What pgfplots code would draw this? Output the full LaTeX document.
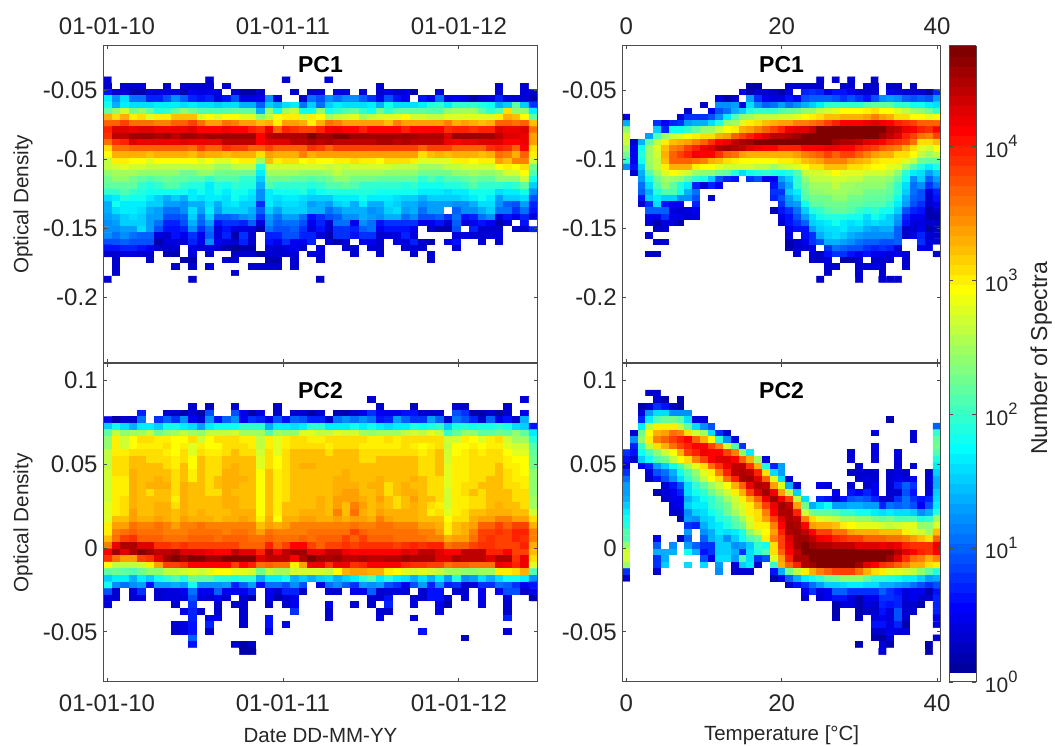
\documentclass[border=0pt]{standalone}
\usepackage{pgfplots}
\pgfplotsset{compat=1.18}
\usepackage{fontspec}
\setmainfont{Liberation Sans}
\newcount\cx \newcount\cy
\def\BeginGrid#1#2#3#4#5{\gdef\acc{}\gdef\gN{#1}\gdef\gxo{#2}\gdef\gdx{#3}\gdef\gyo{#4}\gdef\gdy{#5}\global\cy=0 }
\def\AddCell#1{\pgfmathsetmacro\xx{\gxo+\the\cx*\gdx}\xdef\acc{\acc(\xx,\yy)[#1]}\global\advance\cx 1 }
\newcommand\Rw[2][0]{%
 \pgfmathsetmacro\yy{\gyo+\the\cy*\gdy}\global\cx=0
 \loop\ifnum\cx<#1 \AddCell{0}\repeat
 \foreach \v in {#2}{\ifnum\cx<\gN \AddCell{\v}\fi}%
 \loop\ifnum\cx<\gN \AddCell{0}\repeat
 \global\advance\cy 1 }
% values: ten times log10 of the number of spectra; 0 = empty bin
\BeginGrid{51}{1.13}{17.67}{-0.04258}{-0.0045}
\Rw{3,0,0,0,0,0,0,0,0,0,0,0,3,0,0,0,0,0,0,0,0,3,0,0,0,0,3}
\Rw{3,0,3,3,4,0,0,3,0,3,3,3,3,0,3,0,0,0,0,0,0,0,0,0,0,0,0,0,0,0,0,0,3,0,0,0,0,0,0,0,0,0,0,0,0,0,3,0,0,3}
\Rw{6,3,4,2,2,4,4,4,4,2,5,4,5,4,0,3,2,2,3,0,0,0,3,0,3,4,0,4,4,0,4,0,3,5,3,4,2,0,0,4,0,0,0,0,0,0,3,0,0,4,3}
\Rw{17,12,16,11,11,7,7,9,12,10,7,6,7,4,6,9,4,4,5,12,3,0,0,3,11,9,12,11,12,12,10,8,5,9,6,5,0,6,5,11,4,5,4,2,3,4,7,4,3,4,2}
\Rw{18,14,17,16,16,16,17,17,17,16,17,16,16,15,16,16,14,14,10,15,14,16,17,11,15,11,15,17,16,16,16,17,14,18,16,16,16,17,19,20,17,20,20,20,19,18,14,15,22,15,8}
\Rw{22,24,27,23,24,22,19,20,22,24,23,21,21,21,21,22,22,22,14,24,18,25,26,18,18,24,18,20,21,22,20,18,23,20,22,22,22,22,21,21,24,25,25,25,22,20,21,31,24,24,17}
\Rw{33,31,33,30,31,28,30,30,32,32,32,28,29,28,29,29,28,28,24,26,29,30,30,27,30,29,25,26,27,28,25,26,27,28,28,29,27,27,26,26,28,28,28,28,28,28,30,33,32,29,22}
\Rw{37,37,38,36,36,36,35,35,37,37,38,36,34,34,36,35,34,34,32,33,30,34,34,33,30,33,36,35,34,34,34,34,34,32,35,34,34,34,34,34,35,33,34,33,32,33,37,37,36,37,32}
\Rw{40,43,43,42,43,43,42,42,42,42,43,41,41,41,42,41,41,40,39,42,37,40,39,38,38,40,42,42,41,41,40,41,41,41,41,40,41,41,41,41,39,40,40,39,40,40,43,42,42,43,36}
\Rw{39,44,44,46,46,46,45,46,44,46,46,45,46,46,46,46,46,46,41,44,45,45,45,45,47,46,46,47,47,46,46,46,46,46,46,46,46,45,45,45,43,46,46,46,46,46,44,43,43,42,34}
\Rw{36,39,40,43,42,42,42,42,42,43,42,42,42,42,44,44,44,44,41,43,43,43,44,44,45,44,45,44,44,44,44,44,45,45,44,45,44,44,44,44,42,41,42,42,43,43,43,41,41,42,34}
\Rw{31,36,36,37,37,37,37,37,37,37,36,38,37,37,39,38,38,37,37,38,37,37,37,37,39,38,37,38,38,38,38,38,38,38,38,38,38,37,38,38,38,37,37,37,37,39,40,39,37,41,31}
\Rw{29,33,33,33,33,32,33,33,33,33,32,34,33,33,32,33,33,33,31,34,33,33,33,35,33,34,34,34,34,34,34,34,34,34,34,34,34,31,32,33,32,33,33,33,32,33,36,35,33,37,30}
\Rw{26,30,30,29,29,28,29,29,29,29,29,28,29,28,28,29,30,30,25,32,30,31,31,29,30,29,29,30,30,31,30,30,29,31,31,31,30,28,28,28,28,30,30,29,30,30,34,32,35,35,27}
\Rw{26,27,28,27,27,26,26,26,26,26,26,26,26,25,25,26,26,26,19,27,27,27,27,27,27,27,26,27,26,27,27,27,27,27,26,26,26,25,25,25,26,26,27,27,27,27,29,30,29,31,23}
\Rw{24,25,25,25,24,24,24,24,24,23,23,24,24,23,23,23,23,23,17,25,25,25,25,24,24,24,25,26,25,25,25,25,25,24,24,24,24,23,23,23,23,24,24,25,24,24,25,27,27,29,21}
\Rw{23,24,24,23,22,21,22,23,22,22,21,21,20,21,21,21,20,20,15,23,23,23,22,22,21,22,23,24,24,23,23,23,22,22,22,22,22,20,21,20,21,21,22,23,22,22,24,24,24,27,18}
\Rw{22,22,22,22,20,19,20,21,21,20,19,19,17,19,18,20,19,19,14,21,20,20,20,20,19,20,21,21,22,21,20,20,20,20,20,19,20,18,18,18,19,19,20,21,20,20,20,19,20,22,15}
\Rw{20,20,21,20,19,18,18,18,18,18,17,18,17,18,17,18,18,17,12,17,18,18,18,19,17,18,19,19,19,19,19,19,18,18,18,18,18,17,17,17,16,17,17,18,18,18,16,17,17,18,12}
\Rw{16,17,19,18,18,17,15,14,15,14,17,16,17,17,16,18,17,16,12,17,16,17,17,16,15,15,15,17,17,17,18,17,17,17,16,15,15,14,15,15,15,15,16,17,18,17,13,15,15,16,9}
\Rw{14,18,17,17,17,15,15,13,13,12,14,14,16,14,16,17,15,15,8,17,15,16,16,15,13,14,13,15,16,14,17,14,14,16,15,14,14,12,13,13,13,12,12,14,16,16,12,10,9,13,7}
\Rw{14,16,17,17,16,14,13,11,11,12,16,13,17,13,15,15,15,14,10,15,13,15,15,15,14,14,11,12,14,14,14,12,13,15,16,13,14,11,13,13,0,10,12,12,14,15,11,11,8,11,6}
\Rw{13,14,15,16,15,13,13,9,9,10,15,11,15,10,10,11,12,13,8,13,11,13,13,11,6,8,9,10,12,12,14,13,12,14,14,11,12,9,9,10,8,11,6,7,11,12,4,6,5,7,4}
\Rw{12,13,15,15,15,13,11,7,7,9,14,10,13,6,8,8,7,10,4,12,10,11,11,9,5,7,3,11,11,5,12,11,6,8,8,8,8,5,5,6,3,10,4,5,6,5,2,4,0,6,0}
\Rw{12,12,13,13,16,13,9,6,6,7,12,8,11,4,6,4,4,4,2,11,9,9,10,8,4,6,3,8,8,7,10,11,5,6,6,6,5,0,3,2,2,9,0,7,3,3,3,0,3,4,7}
\Rw{12,11,12,11,10,10,4,3,6,5,8,5,10,4,7,2,8,3,0,7,7,9,9,7,7,4,2,8,8,6,8,8,3,4,4,7,4,0,0,0,0,4,4,3,3,4,4,0,0,0,0}
\Rw{9,9,10,9,9,9,2,4,4,3,7,5,12,5,4,3,7,3,0,6,5,8,5,5,7,0,3,2,4,0,5,5,3,0,4,4,7,3,2,0,4,6,0,0,3,0,3}
\Rw{6,6,7,7,6,5,3,3,3,0,4,3,4,3,2,1,2,2,0,4,3,4,5,3,0,4,0,0,3,3,0,3,3,0,0,3,3,3,0,0,0,3}
\Rw{3,3,4,4,3,3,0,2,2,0,4,0,3,0,0,3,3,3,2,3,3,3,3,0,4,4,0,0,0,3,0,0,3,0,0,0,3,0,3}
\Rw{0,3,0,0,0,3,0,0,0,2,2,0,0,0,3,3,0,0,0,2,2,0,3,0,0,3,0,0,0,0,0,0,0,0,0,0,0,0,3}
\Rw{0,3,0,0,0,0,0,0,3,0,3,0,3,0,0,0,0,3,3,3,3,0,3}
\Rw{0,3,0,0,0,0,0,0,0,0,0,0,0,0,0,3}
\Rw{3,0,0,0,0,0,0,0,0,0,3,0,0,0,0,0,0,0,0,0,0,0,0,0,0,3}
\global\let\dataTL\acc
\BeginGrid{41}{0}{1}{-0.04258}{-0.0045}
\Rw[25]{3,0,3,0,3,0,0,3}
\Rw[16]{2,2,0,0,0,3,3,3,3,3,0,0,3,3,0,3,3,0,3,3,0,3}
\Rw[15]{5,2,3,3,3,2,4,0,7,8,7,4,6,6,5,3,3,3,0,5,4,3,3,3,2,7}
\Rw[12]{4,2,3,0,13,8,5,4,4,6,5,9,10,10,10,9,8,9,8,6,9,12,13,12,10,9,10,9,13}
\Rw[10]{3,0,12,12,13,4,16,12,10,11,13,11,12,14,15,17,20,20,20,20,20,21,22,22,22,20,20,18,18,17,16}
\Rw[8]{3,0,0,5,9,11,14,15,19,20,20,20,21,22,23,24,24,26,27,28,29,29,29,30,31,29,29,28,26,25,24,23,20}
\Rw{5,0,0,0,0,0,0,4,8,8,8,9,12,17,21,24,25,26,26,26,27,27,28,29,30,31,32,32,33,33,33,34,35,34,33,31,31,29,29,28,29}
\Rw{14,0,0,0,8,5,7,8,13,14,14,16,19,24,25,28,30,31,32,33,34,34,35,35,36,37,38,40,41,41,41,42,43,42,41,40,39,38,37,37,37}
\Rw{24,0,0,0,15,7,18,18,20,22,24,25,27,29,30,33,34,35,37,38,40,42,43,43,44,47,47,47,47,47,47,47,47,47,45,44,42,41,40,39,41}
\Rw{27,0,0,13,21,25,27,28,29,30,31,31,33,34,37,38,40,41,43,44,44,45,46,47,47,47,47,47,47,47,47,47,47,46,44,43,40,38,36,35,38}
\Rw{27,3,14,22,26,30,32,33,34,35,37,39,41,42,44,45,46,47,47,47,47,47,47,47,47,47,47,46,45,45,44,43,42,41,40,39,38,36,31,31,32}
\Rw{25,5,18,25,28,32,35,36,38,40,42,43,45,46,45,44,43,42,41,41,40,40,40,41,41,41,42,42,41,41,40,39,38,37,36,35,33,31,28,27,29}
\Rw{23,5,19,25,27,33,37,38,40,42,41,41,39,37,36,34,33,33,33,33,33,33,34,35,36,37,38,37,38,38,37,35,34,33,33,31,31,29,26,25,26}
\Rw{20,5,18,25,26,32,37,37,37,36,35,33,32,31,30,29,29,29,29,29,30,30,31,32,33,34,35,35,35,34,33,32,31,30,30,30,28,26,23,22,22}
\Rw{12,6,15,24,26,30,33,33,33,30,29,29,28,27,27,27,27,26,26,25,26,27,28,29,31,31,32,32,32,31,31,30,29,29,28,28,25,21,19,17,19}
\Rw{0,3,14,21,25,28,29,28,27,25,24,24,23,22,19,16,18,19,20,19,18,19,21,26,27,27,28,29,28,28,28,27,27,27,26,24,20,17,16,13,15}
\Rw{0,0,13,18,23,25,25,24,22,20,19,15,9,7,6,0,8,9,5,5,13,15,20,24,26,26,26,27,27,26,26,25,25,25,24,22,18,12,15,10,13}
\Rw{0,0,11,16,21,24,22,19,17,7,3,7,5,0,0,0,0,0,0,6,11,14,20,23,25,25,25,26,25,25,24,24,24,24,23,20,16,11,12,8,11}
\Rw{0,0,10,14,19,21,21,18,14,11,0,0,0,0,0,0,0,0,0,8,8,15,17,22,24,24,25,25,25,24,24,23,23,23,22,20,15,11,9,4,7}
\Rw{0,0,6,15,17,15,15,12,12,9,0,3,0,0,0,0,0,0,0,7,9,13,15,21,23,23,23,24,24,23,23,22,22,22,21,18,14,10,9,3,6}
\Rw{0,0,3,8,16,6,5,5,0,7,0,0,0,0,0,0,0,0,0,0,8,12,13,18,22,22,23,23,23,22,22,21,21,21,20,17,13,9,8,3,5}
\Rw{0,0,0,10,10,10,4,3,4,5,0,0,0,0,0,0,0,0,0,2,6,8,11,15,19,20,21,22,22,21,20,19,20,18,18,15,9,7,6,2,3}
\Rw{0,0,0,5,5,8,5,5,3,4,0,0,0,0,0,0,0,0,0,0,5,6,9,13,16,18,19,19,19,18,18,16,18,17,15,13,7,5,5,2,2}
\Rw{0,0,0,4,2,4,4,2,0,0,0,0,0,0,0,0,0,0,0,0,3,6,8,10,15,16,17,18,17,16,17,15,16,15,15,12,6,4,4,3,3}
\Rw{0,0,0,0,3,3,0,0,0,0,0,0,0,0,0,0,0,0,0,0,0,5,6,6,13,15,16,16,17,15,15,14,13,14,14,10,3,3,5,2,3}
\Rw{0,0,0,3,0,0,0,0,0,0,0,0,0,0,0,0,0,0,0,0,0,4,0,6,8,14,15,16,15,14,13,12,12,12,12,10,3,5,7,3,3}
\Rw{0,0,0,0,3,3,0,0,0,0,0,0,0,0,0,0,0,0,0,0,0,2,3,5,8,9,14,14,13,12,11,10,10,9,9,10,0,0,8,4,3}
\Rw[21]{2,3,3,4,0,8,11,10,9,9,8,7,8,7,4,0,0,5,4,0}
\Rw{0,0,0,3,3,0,0,0,0,0,0,0,0,0,0,0,0,0,0,0,0,0,3,0,4,3,6,8,8,6,5,6,5,5,4,5,4,0,0,0,3}
\Rw[24]{3,3,4,0,2,2,3,0,3,3,3,0,3}
\Rw[26]{3,3,0,0,3,4,4,3,0,0,3}
\Rw[26]{3,0,0,0,3,0,0,3}
\Rw[25]{3,0,0,0,0,3,0,0,3,3,3}
\global\let\dataTR\acc
\BeginGrid{51}{1.13}{17.67}{0.09247}{-0.003947}
\Rw{0}
\Rw[31]{3,0,0,0,0,0,0,0,0,0,0,0,0,0,0,0,0,0,3}
\Rw[10]{3,0,3,0,0,3,0,0,0,0,3,0,0,0,0,0,0,0,0,0,0,0,3,0,0,0,3,0,0,0,0,3,3,0,0,0,0,3}
\Rw[4]{7,0,0,3,3,2,3,2,9,0,0,9,5,2,4,0,3,0,3,3,2,3,0,2,2,3,5,8,5,5,5,6,6,3,3,3,0,9,8,2,2,3,2,3,0,4,0}
\Rw{5,2,3,3,11,0,8,10,8,12,5,3,12,6,10,12,5,8,7,5,9,6,10,9,7,7,3,11,12,11,12,11,6,7,13,10,8,8,13,10,3,11,9,7,3,10,4,6,3,14,0}
\Rw{15,18,16,14,17,17,15,18,18,17,16,13,17,18,18,18,20,20,20,14,17,17,16,17,20,20,17,17,17,18,17,18,17,16,17,17,19,18,19,20,15,19,19,18,19,19,20,19,16,15,6}
\Rw{22,26,24,25,25,26,23,24,25,26,25,24,26,26,26,27,25,25,25,21,25,24,24,28,28,26,26,28,27,27,25,24,25,25,25,26,27,26,28,26,20,22,24,24,22,22,23,22,24,22,17}
\Rw{24,30,27,29,31,31,30,30,29,29,31,27,29,31,31,31,30,30,26,30,28,30,31,31,30,30,31,31,31,31,31,30,30,31,30,31,31,31,31,31,27,27,30,29,28,30,31,27,25,25,19}
\Rw{24,30,27,29,30,30,30,31,29,30,28,30,29,29,31,31,31,30,26,30,28,30,31,31,31,31,30,31,31,31,30,30,30,30,30,31,30,29,30,31,26,29,29,30,29,30,30,28,27,27,21}
\Rw{26,30,30,31,31,31,31,30,29,31,28,31,30,30,31,32,31,31,27,31,28,31,32,32,32,32,31,32,32,32,31,31,31,31,31,31,31,30,31,32,27,29,30,31,30,31,31,29,28,28,22}
\Rw{26,31,31,32,32,31,31,31,30,31,29,32,31,31,32,32,32,32,28,31,29,31,32,32,32,32,32,32,32,32,31,31,32,32,32,32,32,31,31,32,27,30,30,31,31,31,31,30,29,29,23}
\Rw{26,31,31,32,32,32,32,31,30,32,29,32,31,31,32,33,32,32,28,31,29,31,32,33,33,32,32,32,32,32,32,32,32,32,32,32,32,31,31,32,28,30,30,31,31,31,32,30,30,29,23}
\Rw{27,31,31,33,32,32,32,32,31,32,30,32,31,31,33,33,32,32,29,32,30,31,32,32,32,32,32,32,33,32,32,32,32,32,32,32,32,31,31,32,28,30,30,31,31,31,32,31,30,29,24}
\Rw{27,30,30,33,32,32,33,32,31,32,30,32,31,32,33,33,33,32,29,32,30,31,32,32,32,32,32,33,33,32,32,32,33,32,32,32,33,32,31,31,28,30,30,31,31,32,32,31,30,30,24}
\Rw{27,30,30,33,32,33,33,33,31,33,32,32,31,32,33,33,32,32,29,32,30,31,32,32,32,32,32,33,33,33,32,33,33,31,32,33,32,32,31,31,28,30,31,31,32,32,32,31,31,30,24}
\Rw{27,30,30,33,32,31,32,32,31,33,32,32,31,31,33,32,32,32,29,32,30,31,32,32,32,32,32,33,34,34,32,32,33,31,32,33,33,32,31,31,27,30,31,32,31,32,32,32,31,31,24}
\Rw{27,30,31,33,32,32,32,32,30,33,32,32,32,32,33,33,32,32,29,32,30,31,32,32,32,33,32,34,34,34,33,32,34,32,31,32,34,32,32,31,27,30,30,31,31,32,32,32,31,31,25}
\Rw{28,30,31,33,32,32,33,33,31,33,32,32,32,32,33,33,32,32,29,32,30,32,32,32,32,33,32,34,32,35,34,32,33,32,31,32,33,32,31,30,27,30,30,31,31,32,33,32,32,31,25}
\Rw{28,30,31,34,32,32,33,33,32,33,32,33,32,32,32,33,33,33,29,32,30,32,32,33,33,33,32,35,32,36,33,32,34,33,33,33,33,32,30,31,28,30,31,32,32,33,33,33,32,32,27}
\Rw{28,32,32,34,33,33,34,33,32,34,33,33,33,32,33,33,34,33,30,33,29,33,33,34,34,33,33,34,33,34,34,33,35,34,33,33,33,32,32,32,29,31,31,33,34,34,35,35,34,34,31}
\Rw{30,34,34,36,35,35,36,35,34,35,35,36,35,35,35,35,35,35,32,34,33,34,35,35,35,35,35,35,35,36,35,35,36,36,35,35,35,34,34,33,30,32,33,34,37,37,38,37,38,38,33}
\Rw{30,35,36,37,36,36,36,35,35,35,36,36,36,36,35,36,36,35,34,36,35,35,35,35,36,36,36,36,36,38,37,36,36,36,36,36,36,35,35,34,30,32,33,35,38,38,39,38,40,40,35}
\Rw{32,36,38,39,37,37,37,36,36,36,37,37,37,36,37,37,37,36,36,37,36,36,36,37,36,37,37,37,38,37,38,37,37,37,36,36,36,36,35,35,33,34,34,36,38,39,38,38,40,39,35}
\Rw{35,42,45,45,43,43,39,39,38,39,38,38,38,38,38,38,37,37,37,40,37,38,41,41,38,37,38,38,39,38,39,39,39,39,38,39,40,39,40,40,36,37,37,38,39,39,38,38,38,40,33}
\Rw{41,46,43,45,47,46,44,44,45,43,43,43,42,41,41,44,43,43,40,45,41,44,46,46,42,42,44,44,42,41,41,41,41,41,41,43,42,44,44,43,41,41,44,44,44,40,40,41,38,38,32}
\Rw{39,36,34,34,38,39,43,46,47,46,47,47,46,46,47,47,47,47,43,44,44,44,41,45,47,46,45,46,44,44,45,44,44,45,45,46,45,45,45,43,43,45,44,44,44,43,45,45,39,42,31}
\Rw{29,26,26,26,27,30,34,38,38,39,41,41,41,41,41,38,41,40,36,37,36,36,30,34,42,42,39,42,42,39,40,41,41,41,41,40,39,39,38,38,36,37,37,36,36,36,42,41,40,42,28}
\Rw{22,23,22,21,23,24,24,26,26,27,28,27,28,29,29,28,28,27,23,26,25,25,27,27,27,27,26,29,33,34,34,33,33,30,29,28,27,28,27,26,25,25,24,24,25,25,30,30,31,33,21}
\Rw{15,17,17,14,17,15,18,20,21,19,23,22,22,20,20,19,20,20,14,17,17,18,14,15,14,15,16,14,15,17,20,21,17,19,17,16,14,16,14,17,13,19,12,13,16,14,16,18,18,17,12}
\Rw{18,12,11,12,13,6,13,13,14,13,18,12,12,12,13,7,10,13,6,11,11,9,12,9,0,4,11,12,10,8,13,12,13,9,8,5,9,13,7,12,7,8,3,4,8,8,11,10,8,5,6}
\Rw{9,3,0,4,8,0,3,4,4,5,11,5,5,10,5,5,5,7,0,5,3,7,7,3,0,0,3,3,0,5,5,10,3,4,4,4,0,3,6,6,0,3,3,0,5,0,5,9,9,3,5}
\Rw{4,3,0,3,4,0,3,4,4,4,9,4,3,5,3,0,3,2,0,5,2,3,5,0,0,0,0,0,0,0,0,3,3,6,0,0,3,3,6,6,3,0,3,0,5,0,0,4,0,0,2}
\Rw{4,0,0,0,0,0,0,0,3,0,8,0,0,3,0,3,3,0,0,3,0,3,5,0,0,0,5,0,0,3,0,3,0,7,0,0,4,0,0,5,2,0,0,0,4,0,0,3}
\Rw[9]{5,7,3,0,3,0,0,3,0,0,0,0,0,8,0,0,0,3,0,0,0,0,0,3,3,0,0,0,0,0,5,0,0,0,0,0,0,0,3}
\Rw[10]{7,0,5,5,0,0,3,0,0,6,0,0,0,0,0,0,3,0,0,0,0,0,4,0,0,0,3,0,0,0,0,0,0,0,0,0,0,7}
\Rw[8]{3,4,6,0,7,0,0,0,3,0,0,6,0,5}
\Rw[8]{3,4,6,0,3,0,0,0,0,0,0,5,0,0,0,0,0,0,0,0,0,0,0,0,0,0,0,0,0,6,0,0,0,0,0,0,0,0,0,3}
\Rw[10]{10,0,0,0,0,0,0,0,0,0,0,0,0,0,0,0,0,0,0,0,0,0,0,0,0,0,0,0,0,0,0,0,3}
\Rw[10]{6,0,0,0,0,3,2,3}
\Rw[16]{2,2}
\global\let\dataBL\acc
\BeginGrid{41}{0}{1}{0.09247}{-0.003947}
\Rw[3]{3,3}
\Rw[4]{3,2,0,2}
\Rw[2]{2,3,8,6,3,2}
\Rw[2]{4,13,16,16,12,12,12}
\Rw[2]{7,17,21,23,23,21,16,4,4,0,0,0,0,0,0,0,0,0,0,0,0,0,0,0,0,0,0,0,0,0,0,0,2}
\Rw[2]{17,26,30,30,30,26,22,16,12,9,0,0,0,0,0,0,0,0,0,0,0,0,0,0,0,0,0,0,0,0,0,0,0,0,0,0,0,0,10}
\Rw[1]{3,23,29,33,34,36,35,31,27,25,16,8,3,0,0,0,0,0,0,0,0,0,0,0,0,0,0,0,0,0,0,4,0,0,0,0,3,0,0,20}
\Rw[1]{12,24,30,35,37,38,40,41,37,33,29,20,12,4,0,0,0,0,0,0,0,0,0,0,0,0,0,0,0,0,0,0,0,0,0,0,3,0,0,22}
\Rw[1]{7,20,26,31,33,36,38,40,41,41,38,35,27,21,8,0,0,0,0,0,0,0,0,0,0,0,0,0,0,0,0,4,0,0,0,0,0,0,0,23}
\Rw{8,6,18,21,24,27,29,33,38,40,42,41,41,38,35,24,17,0,0,0,0,0,0,0,0,0,0,0,0,3,0,0,4,0,0,4,0,0,0,0,21}
\Rw{6,3,15,18,21,23,26,29,31,35,38,41,43,43,41,37,33,25,4,0,0,0,0,0,0,0,0,0,0,3,0,0,4,0,0,4,0,0,0,0,19}
\Rw{5,0,5,7,13,15,18,21,25,28,31,36,39,42,44,44,39,33,19,7,13,0,0,0,0,0,0,0,0,0,3,0,0,0,0,4,0,3,0,0,17}
\Rw{8,0,0,4,9,11,14,18,21,24,28,30,35,40,44,45,44,40,31,16,13,0,0,0,0,0,0,0,0,3,3,3,3,0,3,4,3,0,0,3,15}
\Rw{11,0,0,3,6,9,12,16,20,23,26,29,31,36,40,45,46,43,37,28,16,3,0,0,0,0,0,0,0,0,3,4,3,0,3,5,4,5,0,4,14}
\Rw{13,0,0,0,0,3,6,9,16,20,22,25,27,29,33,37,42,45,44,34,28,14,3,0,0,5,4,0,0,3,0,3,5,0,3,7,10,8,0,3,14}
\Rw{13,0,0,0,2,4,5,7,16,18,20,23,25,27,30,33,38,43,46,42,34,26,15,0,0,0,0,5,0,6,5,7,5,0,3,3,9,6,0,4,15}
\Rw{14,0,0,0,0,3,5,5,14,16,18,20,22,25,27,30,33,37,42,46,42,38,26,16,0,7,6,3,6,9,10,9,7,3,3,8,11,8,6,7,16}
\Rw{15,0,0,0,0,0,4,5,15,17,17,20,21,23,26,28,30,34,38,42,46,44,34,23,14,16,18,13,13,14,14,13,13,7,11,10,11,9,5,9,17}
\Rw{17,0,0,0,0,0,3,3,12,15,16,18,20,23,25,27,30,31,35,41,45,45,40,27,23,22,22,21,20,20,18,18,17,16,17,16,16,15,12,14,19}
\Rw{18,0,0,0,0,0,0,2,13,12,15,16,19,20,22,25,28,31,34,38,43,45,44,35,31,28,27,26,25,25,24,24,23,22,23,21,21,21,19,20,25}
\Rw{19,0,0,0,0,0,0,0,8,7,14,16,17,19,21,23,27,30,30,35,41,46,45,41,34,33,33,32,30,29,28,28,28,27,26,27,28,28,24,24,28}
\Rw{21,0,0,0,0,0,0,0,13,0,12,14,17,16,17,19,24,27,29,34,40,45,46,44,41,38,38,36,36,34,33,33,33,32,32,32,30,28,27,25,32}
\Rw{21,0,0,0,5,0,0,3,10,0,10,14,15,12,15,18,21,23,30,35,38,43,46,46,44,42,41,40,39,38,38,37,37,37,36,36,35,34,32,31,37}
\Rw{24,0,0,0,10,0,12,0,13,10,8,8,15,15,12,13,15,20,18,31,38,42,46,47,46,45,45,44,44,44,43,43,43,42,43,42,40,39,39,39,42}
\Rw{27,0,0,0,14,14,14,0,18,14,6,8,15,15,14,8,16,19,21,31,37,41,44,47,47,47,47,47,47,47,47,47,47,47,47,45,43,41,40,39,41}
\Rw{27,0,0,0,8,14,0,0,0,0,9,5,16,16,13,21,16,8,9,28,34,40,45,45,47,47,47,47,47,47,47,47,47,47,46,43,39,36,35,33,35}
\Rw{25,0,0,0,8,15,0,0,16,0,16,0,13,0,4,15,17,3,0,20,33,37,40,45,46,47,47,47,47,47,46,43,41,39,38,37,35,33,33,31,30}
\Rw{8,0,0,0,3,0,0,0,0,0,0,0,12,0,3,3,3,0,0,6,14,23,26,30,33,35,37,38,38,38,36,33,31,30,28,28,27,26,24,22,19}
\Rw{3,0,0,0,0,0,0,0,0,0,0,0,0,0,0,0,0,0,0,2,5,10,14,17,18,20,22,23,24,24,24,22,20,20,19,18,17,17,15,13,14}
\Rw[21]{3,6,8,11,13,15,15,16,17,17,16,16,14,14,13,12,11,9,8,9}
\Rw[23]{5,8,4,5,10,10,8,8,8,8,10,8,6,4,5,5,2,6}
\Rw[23]{3,0,3,5,6,6,4,2,5,5,8,8,7,4,5,3,3,7}
\Rw[27]{2,4,4,2,4,3,7,6,7,3,3,2,0,7}
\Rw[27]{2,0,0,2,3,3,6,4,9,3,3,0,0,7}
\Rw[27]{2,0,0,2,0,4,5,4,9,3,0,0,0,5}
\Rw[32]{6,6,4,7,2,0,0,0,4}
\Rw[32]{3,3,5,4,4}
\Rw[32]{2,1,4,0,0,0,0,0,3}
\Rw[30]{2,0,0,4,2,0,0,0,0,2}
\Rw[33]{4,0,0,0,0,0,2}
\global\let\dataBR\acc
\pgfplotsset{colormap={jw}{rgb255=(255,255,255) rgb255=(0,0,159) rgb255=(0,0,175) rgb255=(0,0,191) rgb255=(0,0,207) rgb255=(0,0,223) rgb255=(0,0,239) rgb255=(0,0,255) rgb255=(0,16,255) rgb255=(0,32,255) rgb255=(0,48,255) rgb255=(0,64,255) rgb255=(0,80,255) rgb255=(0,96,255) rgb255=(0,112,255) rgb255=(0,128,255) rgb255=(0,143,255) rgb255=(0,159,255) rgb255=(0,175,255) rgb255=(0,191,255) rgb255=(0,207,255) rgb255=(0,223,255) rgb255=(0,239,255) rgb255=(0,255,255) rgb255=(16,255,239) rgb255=(32,255,223) rgb255=(48,255,207) rgb255=(64,255,191) rgb255=(80,255,175) rgb255=(96,255,159) rgb255=(112,255,143) rgb255=(128,255,128) rgb255=(143,255,112) rgb255=(159,255,96) rgb255=(175,255,80) rgb255=(191,255,64) rgb255=(207,255,48) rgb255=(223,255,32) rgb255=(239,255,16) rgb255=(255,255,0) rgb255=(255,239,0) rgb255=(255,223,0) rgb255=(255,207,0) rgb255=(255,191,0) rgb255=(255,175,0) rgb255=(255,159,0) rgb255=(255,143,0) rgb255=(255,128,0) rgb255=(255,112,0) rgb255=(255,96,0) rgb255=(255,80,0) rgb255=(255,64,0) rgb255=(255,48,0) rgb255=(255,32,0) rgb255=(255,16,0) rgb255=(255,0,0) rgb255=(239,0,0) rgb255=(223,0,0) rgb255=(207,0,0) rgb255=(191,0,0) rgb255=(175,0,0) rgb255=(159,0,0) rgb255=(143,0,0) rgb255=(128,0,0)}}
\newcommand\tl{\fontsize{24}{26}\selectfont}
\pgfplotsset{panel/.style={scale only axis,axis on top,colormap name=jw,colormap access=piecewise constant,
 point meta min=0,point meta max=47.5,
 tick align=inside,major tick length=3.5pt,tick style={color=black!70,line width=.8pt},
 axis line style={black!70,line width=1pt},
 tick label style={font=\tl,color=black!85},
 yticklabel style={inner sep=0pt,xshift=-5.5pt},
 yticklabel pos=left,
 xlabel style={font=\fontsize{20.5}{23}\selectfont,color=black!85,at={(axis description cs:0.5,-0.167)},anchor=center},
 ylabel style={font=\fontsize{20.7}{23}\selectfont,color=black!85,anchor=center}},
 dateax/.style={width=434.4pt,xmin=-7.7,xmax=893.6,xtick={0,365,730},xticklabels={01-01-10,01-01-11,01-01-12}},
 tempax/.style={width=318.6pt,xmin=-0.5,xmax=40.5,xtick={0,20,40},xticklabels={0,20,40}},
 pc1ax/.style={height=317.5pt,ymin=-0.2472,ymax=-0.0177,ytick={-0.2,-0.15,-0.1,-0.05},yticklabels={-0.2,-0.15,-0.1,-0.05},xticklabel pos=upper,xticklabel style={inner sep=0pt,yshift=11pt}},
 pc2ax/.style={height=318pt,ymin=-0.080,ymax=0.110,ytick={-0.05,0,0.05,0.1},yticklabels={-0.05,0,0.05,0.1},xticklabel pos=lower,xticklabel style={inner sep=0pt,yshift=-12.5pt}}}
\newcommand\cell[3]{\edef\temp{\noexpand\addplot[matrix plot*,mesh/cols=#1,point meta=explicit] coordinates {#2};}\temp
 \node[font=\fontsize{23}{26}\selectfont\bfseries,text=black] at (rel axis cs:0.5,#3) {PC\ifdim#3pt>0.92pt 1\else 2\fi};}
\newcommand\sct[1]{10\raisebox{.5em}{\fontsize{16.5}{17}\selectfont #1}}
\begin{document}
\begin{tikzpicture}
\path[use as bounding box] (0pt,0pt) rectangle (1055pt,746pt);
\begin{axis}[panel,dateax,pc1ax,at={(103.3pt,383pt)},anchor=south west,
 ylabel={Optical Density},ylabel style={at={(axis description cs:-0.185,0.5)}}]
\cell{51}{\dataTL}{0.9386}
\end{axis}
\begin{axis}[panel,tempax,pc1ax,at={(622.3pt,383pt)},anchor=south west]
\cell{41}{\dataTR}{0.9386}
\end{axis}
\begin{axis}[panel,dateax,pc2ax,at={(103.3pt,64pt)},anchor=south west,xlabel={Date DD-MM-YY},
 ylabel={Optical Density},ylabel style={at={(axis description cs:-0.185,0.5)}}]
\cell{51}{\dataBL}{0.915}
\end{axis}
\begin{axis}[panel,tempax,pc2ax,at={(622.3pt,64pt)},anchor=south west,xlabel={Temperature [°C]},
 colorbar sampled,
 colorbar style={samples=65,scale only axis,at={([xshift=10.2pt]parent axis.south east)},anchor=south west,width=27pt,height=636pt,
  ytick={0,10,20,30,40},
  yticklabels={\sct0,\sct1,\sct2,\sct3,\sct4},
  ylabel={Number of Spectra},
  ylabel style={font=\fontsize{23}{26}\selectfont,color=black!85,at={(axis description cs:3.4,0.509)},anchor=center},
  yticklabel style={font=\fontsize{21}{23}\selectfont,color=black!85,xshift=5pt},
  tick align=inside,major tick length=4pt,axis line style={black!70,line width=1pt}}]
\cell{41}{\dataBR}{0.915}
\end{axis}
\end{tikzpicture}
\end{document}
